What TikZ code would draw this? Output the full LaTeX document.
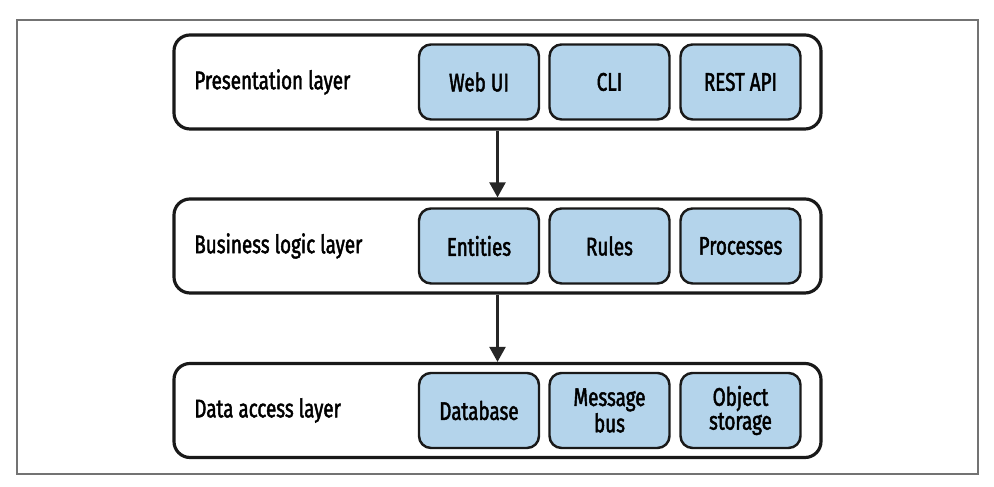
\documentclass[tikz,border=0pt]{standalone}
\usepackage{fontspec}
\setmainfont{Fira Sans}[FakeStretch=0.74, FakeBold=1.8]
\usetikzlibrary{arrows.meta}
\definecolor{partblue}{RGB}{180,212,235}
\tikzset{
  outerframe/.style={draw=black!55, line width=0.8pt},
  layer/.style={draw=black!90, line width=1.8pt, rounded corners=0.32cm, minimum width=12.94cm, minimum height=1.88cm},
  layerlabel/.style={anchor=west, inner sep=0pt, font=\fontsize{14.5}{15}\selectfont},
  part/.style={draw=black!90, fill=partblue, line width=1.4pt, rounded corners=0.24cm, minimum width=2.4cm, minimum height=1.5cm, align=center, font=\fontsize{14.5}{11.6}\selectfont},
  flow/.style={draw=black!85, line width=1.5pt, -{Triangle[width=9pt,length=8.5pt]}},
}
\begin{document}
\begin{tikzpicture}
\useasboundingbox (0,0) rectangle (19.88,9.74);
\draw[outerframe] (0.34,0.26) rectangle (19.56,9.34);
% layers
\node[layer] (pres) at (9.95,8.10) {};
\node[layer] (logic) at (9.95,4.82) {};
\node[layer] (data) at (9.95,1.53) {};
\node[layerlabel] (preslabel) at (3.88,8.10) {Presentation layer};
\node[layerlabel] (logiclabel) at (3.88,4.82) {Business logic layer};
\node[layerlabel] (datalabel) at (3.88,1.53) {Data access layer};
% parts of each layer
\node[part] (webui) at (9.58,8.10) {Web UI};
\node[part] (cli) at (12.19,8.10) {CLI};
\node[part] (restapi) at (14.81,8.10) {REST API};
\node[part] (entities) at (9.58,4.82) {Entities};
\node[part] (rules) at (12.19,4.82) {Rules};
\node[part] (processes) at (14.81,4.82) {Processes};
\node[part] (database) at (9.58,1.53) {Database};
\node[part] (msgbus) at (12.19,1.53) {Message\\bus};
\node[part] (objstore) at (14.81,1.53) {Object\\storage};
% flow between layers
\draw[flow] (pres) -- (logic);
\draw[flow] (logic) -- (data);
\end{tikzpicture}
\end{document}
